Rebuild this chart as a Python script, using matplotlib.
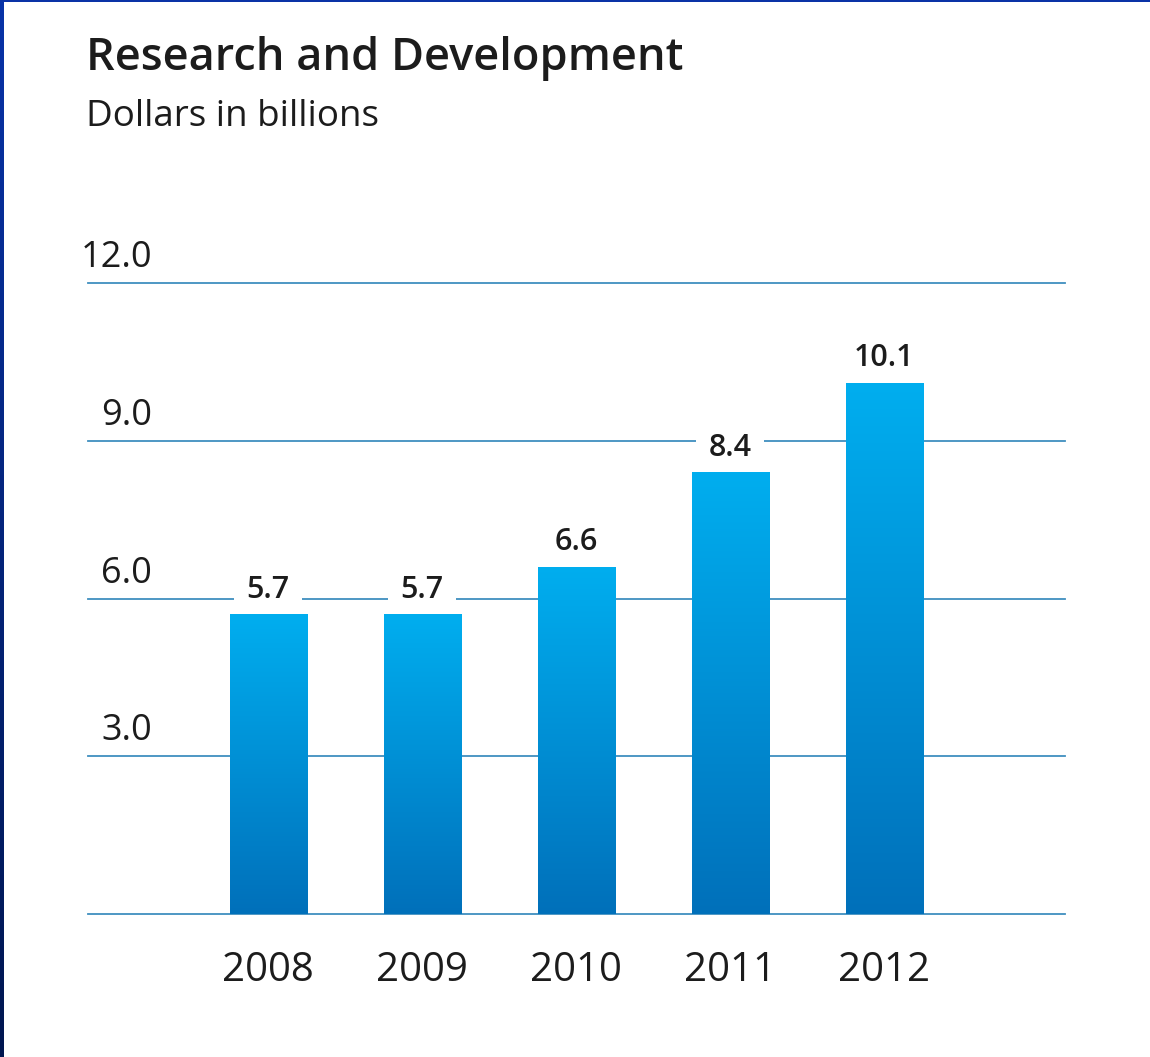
import numpy as np
import matplotlib
matplotlib.use("Agg")
import matplotlib.pyplot as plt
from matplotlib.colors import LinearSegmentedColormap
from matplotlib.transforms import blended_transform_factory

# Chart data
years = ["2008", "2009", "2010", "2011", "2012"]
rd_spend = [5.7, 5.7, 6.6, 8.4, 10.1]
ytick_values = [3.0, 6.0, 9.0, 12.0]
ytick_labels = ["3.0", "6.0", "9.0", "12.0"]

title = "Research and Development"
subtitle = "Dollars in billions"

FONT = ["Open Sans", "DejaVu Sans"]
TEXT = "#1c1c1c"
GRID = "#3f8fbf"
BAR_TOP = "#00aeef"
BAR_BOTTOM = "#0070ba"

W, H = 1150, 1057
fig = plt.figure(figsize=(W / 100, H / 100), dpi=100)
fig.patch.set_facecolor("white")

# Plot area (pixel geometry converted to figure fractions)
ax_left, ax_right = 88, 1065
ax_bottom_px, ax_top_px = 914, 283
ax = fig.add_axes([ax_left / W, (H - ax_bottom_px) / H,
                   (ax_right - ax_left) / W, (ax_bottom_px - ax_top_px) / H])
ax.set_facecolor("none")
x = np.arange(len(years))

# Horizontal rules at each tick value plus the baseline
for v in [0.0] + ytick_values:
    ax.axhline(v, color=GRID, lw=1.3, zorder=1, clip_on=False)

# Bars with a vertical gradient fill
bars = ax.bar(x, rd_spend, width=0.5, color="none", edgecolor="none", zorder=2)
grad_cmap = LinearSegmentedColormap.from_list("bar", [BAR_BOTTOM, BAR_TOP])
gradient = np.linspace(0, 1, 256).reshape(-1, 1)
for b in bars:
    x0, y0 = b.get_x(), b.get_y()
    w, h = b.get_width(), b.get_height()
    im = ax.imshow(gradient, cmap=grad_cmap, origin="lower", aspect="auto",
                   extent=[x0, x0 + w, y0, y0 + h], zorder=3)
    im.set_clip_path(b)
ax.set_xlim(-1.169, 5.175)
ax.set_ylim(0, 12.0)

# Value labels above bars; the white box hides the rules but sits under the bars
for xi, v in zip(x, rd_spend):
    ax.annotate(f"{v:.1f}", xy=(xi, v), xytext=(0, 7), textcoords="offset points",
                ha="center", va="bottom", fontsize=22, fontweight="semibold",
                color=TEXT, family=FONT, zorder=2.5,
                bbox=dict(boxstyle="square,pad=0.4", fc="white", ec="none"))

# Y-axis labels sitting above the rules
trans = blended_transform_factory(ax.transAxes, ax.transData)
for v, lab in zip(ytick_values, ytick_labels):
    ax.annotate(lab, xy=(0.0655, v), xycoords=trans, xytext=(0, 5),
                textcoords="offset points", ha="right", va="bottom",
                fontsize=26, color=TEXT, family=FONT)

ax.set_xticks(x)
ax.set_xticklabels(years, fontsize=29, color=TEXT, family=FONT)
ax.tick_params(axis="x", length=0, pad=26)
ax.set_yticks([])
for s in ax.spines.values():
    s.set_visible(False)

# Titles
fig.text(86 / W, 1 - 36 / H, title, ha="left", va="top", fontsize=32.5,
         fontweight="semibold", color=TEXT, family=FONT)
fig.text(86 / W, 1 - 99 / H, subtitle, ha="left", va="top", fontsize=26.5,
         color=TEXT, family=FONT)

# Frame accents: gradient strip on the left and thin rule at the top
strip = fig.add_axes([0, 0, 4 / W, 1])
strip.imshow(np.linspace(0, 1, 256).reshape(-1, 1), origin="lower", aspect="auto",
             cmap=LinearSegmentedColormap.from_list("edge", ["#001650", "#0833a8"]))
strip.set_axis_off()
fig.add_artist(plt.Rectangle((0, 1 - 2 / H), 1, 2 / H, transform=fig.transFigure,
                             color="#0a33a6", lw=0))

fig.savefig("out.png", dpi=100, facecolor="white")
